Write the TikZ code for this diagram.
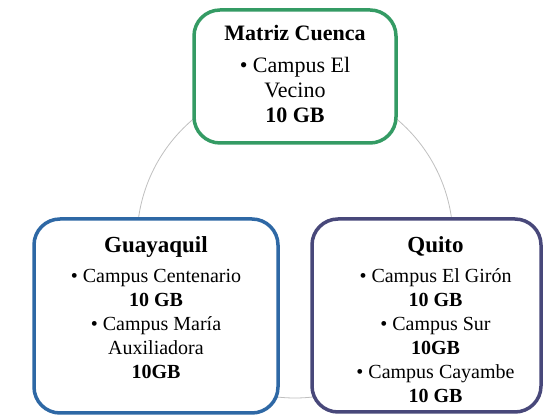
\documentclass[tikz,border=0pt]{standalone}
\usepackage{fontspec}
\setmainfont{Liberation Serif}
\usetikzlibrary{positioning,backgrounds}
\pgfdeclarelayer{edgelayer}
\pgfdeclarelayer{nodelayer}
\pgfsetlayers{background,edgelayer,nodelayer,main}
\definecolor{cuencagreen}{RGB}{52,155,100}
\definecolor{guayaquilblue}{RGB}{46,104,165}
\definecolor{quitopurple}{RGB}{72,72,122}
\tikzstyle{site}=[draw,line width=3.5pt,fill=white,rounded corners=26pt,inner sep=0pt]
\tikzstyle{sitetext}=[inner sep=0pt,align=center,font=\fontsize{20}{24}\selectfont]
\tikzstyle{ring}=[draw=gray!50,line width=0.8pt]
\newcommand{\sitetitle}[1]{{\fontsize{23}{24}\selectfont\bfseries #1}}

\begin{document}
\begin{tikzpicture}[x=1pt,y=1pt]
	\useasboundingbox (0,0) rectangle (545,419);
	\begin{pgfonlayer}{nodelayer}
		\node [style=site, draw=cuencagreen, minimum width=202pt, minimum height=133pt] (cuenca) at (295, 342.5) {};
		\node [style=site, draw=guayaquilblue, minimum width=244pt, minimum height=194pt] (guayaquil) at (156, 103) {};
		\node [style=site, draw=quitopurple, minimum width=229pt, minimum height=193pt] (quito) at (426.5, 103.5) {};
		\node [style=sitetext, font=\fontsize{22}{25}\selectfont] (cuencatxt) at ([yshift=3pt]cuenca.center)
			{\textbf{Matriz Cuenca}\\[7pt]• Campus El\\Vecino\\\textbf{10 GB}};
		\node [style=sitetext] (guayaquiltxt) at ([yshift=8pt]guayaquil.center)
			{\sitetitle{Guayaquil}\\[6pt]• Campus Centenario\\\textbf{10 GB}\\• Campus María\\Auxiliadora\\\textbf{10GB}};
		\node [style=sitetext] (quitotxt) at ([xshift=9pt, yshift=-4.5pt]quito.center)
			{\sitetitle{Quito}\\[6pt]• Campus El Girón\\\textbf{10 GB}\\• Campus Sur\\\textbf{10GB}\\• Campus Cayambe\\\textbf{10 GB}};
	\end{pgfonlayer}
	\begin{pgfonlayer}{edgelayer}
		\coordinate (hub) at (295, 179);
		\draw [style=ring] (hub) circle (158pt);
	\end{pgfonlayer}
\end{tikzpicture}
\end{document}
